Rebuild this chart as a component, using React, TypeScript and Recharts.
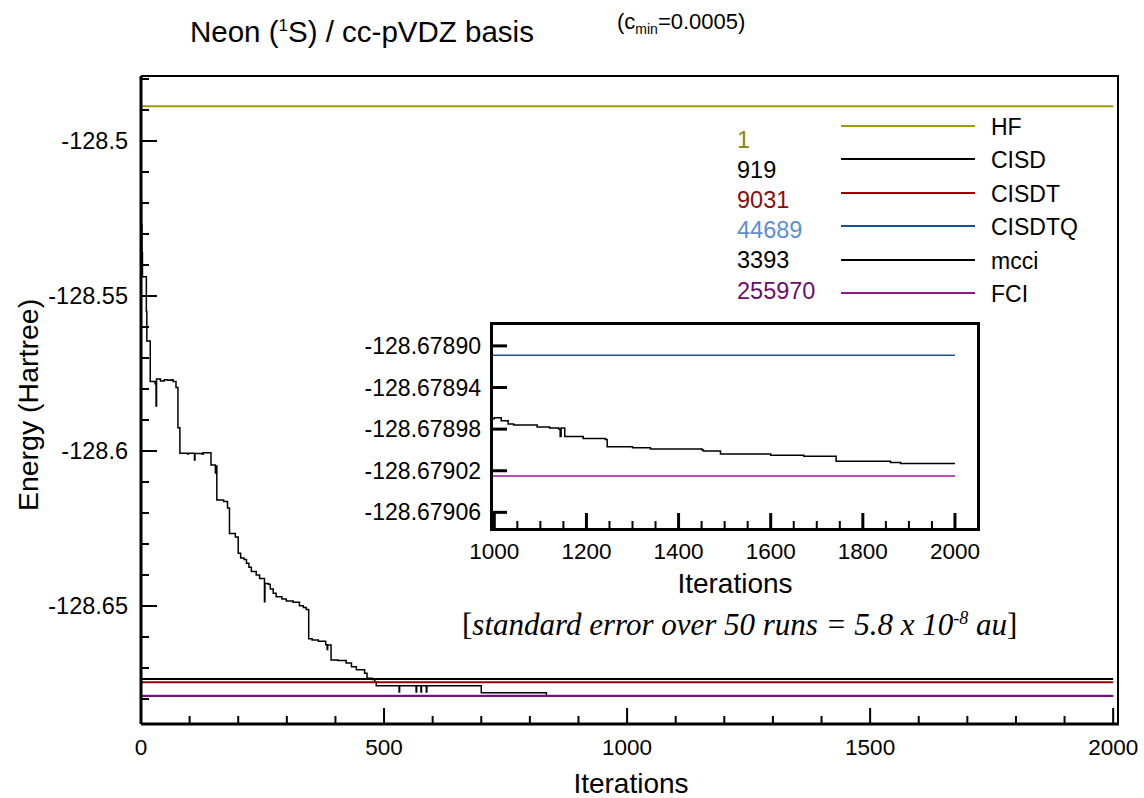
import { LineChart, Line, XAxis, YAxis } from "recharts";

// mcci energy trace (step data), iteration -> energy in Hartree
const mcciIter = [
  0, 1, 2, 3, 11, 12, 19, 29, 31, 32, 40, 48, 55, 62, 66, 72, 76, 80, 96, 98, 110, 111, 125, 128,
  144, 153, 154, 156, 170, 178, 182, 194, 200, 205, 212, 217, 222, 227, 237, 244, 254, 255, 262,
  266, 272, 278, 290, 299, 313, 326, 334, 340, 345, 352, 365, 380, 383, 384, 391, 405, 422, 433,
  443, 460, 465, 476, 481, 484, 530, 531, 532, 566, 567, 576, 577, 587, 588, 700, 834, 900, 1000,
  1015, 1030, 1042, 1093, 1120, 1140, 1143, 1145, 1153, 1193, 1241, 1245, 1300, 1339, 1451, 1454,
  1491, 1600, 1672, 1742, 1860, 1882, 2000,
];
const mcciEnergy = [
  -128.519, -128.527, -128.536, -128.5438, -128.555, -128.5645, -128.5776, -128.5783, -128.5855,
  -128.5768, -128.5774, -128.577, -128.5772, -128.577, -128.5776, -128.5795, -128.5925, -128.6007,
  -128.601, -128.6007, -128.6029, -128.6008, -128.601, -128.6006, -128.6045, -128.6071, -128.6048,
  -128.6158, -128.6163, -128.6184, -128.6266, -128.6277, -128.633, -128.6345, -128.635, -128.6362,
  -128.6375, -128.6389, -128.64, -128.6411, -128.6486, -128.6427, -128.643, -128.6445, -128.6459,
  -128.647, -128.6477, -128.6484, -128.6488, -128.6499, -128.6505, -128.6511, -128.6606, -128.661,
  -128.6614, -128.6625, -128.664, -128.6626, -128.6674, -128.6676, -128.6684, -128.6696, -128.6706,
  -128.6717, -128.6733, -128.6737, -128.6744, -128.6757, -128.6757, -128.6777, -128.6757, -128.6777,
  -128.6757, -128.6777, -128.6757, -128.6777, -128.6757, -128.678, -128.67892, -128.67897,
  -128.678969, -128.678972, -128.678975, -128.678976, -128.678978, -128.678979, -128.67898,
  -128.678987, -128.678979, -128.678987, -128.678989, -128.67899, -128.678997, -128.678998,
  -128.678999, -128.679, -128.679001, -128.679004, -128.679005, -128.679006, -128.679011,
  -128.679012, -128.679013, -128.679013,
];

// reference methods (constant energies)
const refNames = ["HF", "CISD", "CISDT", "CISDTQ", "FCI"];
const refEnergies = [-128.48878, -128.67355, -128.6746, -128.678909, -128.679025];
const refColors = ["#9c9c00", "#000000", "#9a0000", "#1c4f96", "#7d0a85"];

// legend
const legendNames = ["HF", "CISD", "CISDT", "CISDTQ", "mcci", "FCI"];
const legendDims = ["1", "919", "9031", "44689", "3393", "255970"];
const legendLineColors = ["#9c9c00", "#000000", "#9a0000", "#1c4f96", "#000000", "#8a1a8f"];
const legendDimColors = ["#8a8a00", "#000000", "#8b0b0b", "#5b8fd0", "#000000", "#6b0d6b"];

// ticks
const mainXTicks = [0, 100, 200, 300, 400, 500, 600, 700, 800, 900, 1000, 1100, 1200, 1300, 1400, 1500, 1600, 1700, 1800, 1900, 2000];
const mainXLabels = [0, 500, 1000, 1500, 2000];
const mainYTicks = [
  -128.68, -128.67, -128.66, -128.65, -128.64, -128.63, -128.62, -128.61, -128.6, -128.59, -128.58,
  -128.57, -128.56, -128.55, -128.54, -128.53, -128.52, -128.51, -128.5, -128.49, -128.48,
];
const mainYLabels = [-128.65, -128.6, -128.55, -128.5];
const insetXTicks = [1000, 1050, 1100, 1150, 1200, 1250, 1300, 1350, 1400, 1450, 1500, 1550, 1600, 1650, 1700, 1750, 1800, 1850, 1900, 1950, 2000];
const insetXLabels = [1000, 1200, 1400, 1600, 1800, 2000];
const insetYTicks = [-128.6789, -128.67894, -128.67898, -128.67902, -128.67906];

const mcciData = mcciIter.map((it, i) => ({ iter: it, e: mcciEnergy[i] }));
const flatLine = (e: number) => [{ iter: 0, e }, { iter: 2000, e }];

const isIn = (arr: number[], v: number) => arr.some((a) => Math.abs(a - v) < 1e-9);

const MainYTick = (props: any) => {
  const { x, y, payload } = props;
  const major = isIn(mainYLabels, payload.value);
  return (
    <g>
      <line x1={x} x2={x + (major ? 16 : 8)} y1={y} y2={y} stroke="#000" strokeWidth={2} />
      {major && (
        <text x={x - 13} y={y} textAnchor="end" dominantBaseline="central" fontSize={23.5} fill="#000">
          {String(payload.value)}
        </text>
      )}
    </g>
  );
};

const MainXTick = (props: any) => {
  const { x, y, payload } = props;
  const major = isIn(mainXLabels, payload.value);
  return (
    <g>
      <line x1={x} x2={x} y1={y} y2={y - (major ? 16 : 8)} stroke="#000" strokeWidth={2} />
      {major && (
        <text x={x} y={y + 23} textAnchor="middle" dominantBaseline="central" fontSize={22.5} fill="#000">
          {String(payload.value)}
        </text>
      )}
    </g>
  );
};

const InsetYTick = (props: any) => {
  const { x, y, payload } = props;
  return (
    <g>
      <line x1={x} x2={x + 15} y1={y} y2={y} stroke="#000" strokeWidth={3} />
      <text x={x - 11} y={y} textAnchor="end" dominantBaseline="central" fontSize={23} fill="#000">
        {payload.value.toFixed(5)}
      </text>
    </g>
  );
};

const InsetXTick = (props: any) => {
  const { x, y, payload } = props;
  const major = isIn(insetXLabels, payload.value);
  return (
    <g>
      <line x1={x} x2={x} y1={y} y2={y - (major ? 16 : 8)} stroke="#000" strokeWidth={major ? 3 : 2} />
      {major && (
        <text x={x} y={y + 22} textAnchor="middle" dominantBaseline="central" fontSize={22.5} fill="#000">
          {String(payload.value)}
        </text>
      )}
    </g>
  );
};

const abs = (left: number, top: number, extra: any = {}) => ({
  position: "absolute" as const,
  left,
  top,
  whiteSpace: "nowrap" as const,
  ...extra,
});

export default function App() {
  return (
    <div
      style={{
        position: "absolute",
        left: 0,
        top: 0,
        width: 1144,
        height: 798,
        background: "#fff",
        fontFamily: "'Liberation Sans', Arial, sans-serif",
        color: "#000",
      }}
    >
      <LineChart width={1144} height={798} margin={{ top: 76, right: 25, bottom: 14, left: 21 }}>
        <XAxis
          dataKey="iter"
          type="number"
          domain={[0, 2012]}
          allowDataOverflow
          ticks={mainXTicks}
          interval={0}
          tickSize={0}
          tickMargin={0}
          tick={<MainXTick />}
          tickLine={false}
          axisLine={{ stroke: "#000", strokeWidth: 3 }}
          height={60}
        />
        <YAxis
          type="number"
          domain={[-128.68806, -128.47903]}
          allowDataOverflow
          ticks={mainYTicks}
          interval={0}
          tickSize={0}
          tickMargin={0}
          tick={<MainYTick />}
          tickLine={false}
          axisLine={{ stroke: "#000", strokeWidth: 3 }}
          width={120}
        />
        <Line data={mcciData} dataKey="e" type="stepAfter" stroke="#000" strokeWidth={1.5} dot={false} isAnimationActive={false} />
        {refNames.map((n, i) => (
          <Line
            key={n}
            data={flatLine(refEnergies[i])}
            dataKey="e"
            type="linear"
            stroke={refColors[i]}
            strokeWidth={2}
            dot={false}
            isAnimationActive={false}
          />
        ))}
      </LineChart>

      {/* top and right frame */}
      <div style={abs(141, 75, { width: 978, height: 650, borderTop: "2px solid #000", borderRight: "2px solid #000", boxSizing: "border-box" })} />

      {/* inset */}
      <div style={abs(492, 323, { width: 486, height: 206, background: "#fff" })} />
      <div style={abs(350, 310)}>
        <LineChart width={640} height={300} margin={{ top: 13, right: 12, bottom: 21, left: 2 }}>
          <XAxis
            dataKey="iter"
            type="number"
            domain={[995, 2050]}
            allowDataOverflow
            ticks={insetXTicks}
            interval={0}
            tickSize={0}
            tickMargin={0}
            tick={<InsetXTick />}
            tickLine={false}
            axisLine={false}
            height={60}
          />
          <YAxis
            type="number"
            domain={[-128.679076, -128.678878]}
            allowDataOverflow
            ticks={insetYTicks}
            interval={0}
            tickSize={0}
            tickMargin={0}
            tick={<InsetYTick />}
            tickLine={false}
            axisLine={false}
            width={140}
          />
          {refNames.map((n, i) => (
            <Line
              key={n}
              data={flatLine(refEnergies[i])}
              dataKey="e"
              type="linear"
              stroke={n === "FCI" ? "#a010a0" : refColors[i]}
              strokeWidth={1.5}
              dot={false}
              isAnimationActive={false}
            />
          ))}
          <Line data={mcciData} dataKey="e" type="stepAfter" stroke="#000" strokeWidth={1.5} dot={false} isAnimationActive={false} />
        </LineChart>
      </div>
      <div style={abs(490, 321.5, { width: 489.5, height: 209.5, border: "3px solid #000", boxSizing: "border-box" })} />
      <div style={abs(735, 584, { fontSize: 28, lineHeight: "32px", transform: "translate(-50%, -50%)" })}>Iterations</div>

      {/* annotation */}
      <div
        style={abs(462, 625, {
          fontFamily: "'Liberation Serif', 'Times New Roman', serif",
          fontSize: 31,
          lineHeight: "34px",
          transform: "translateY(-50%)",
        })}
      >
        [<i>standard error over 50 runs = 5.8 x 10<sup style={{ fontSize: 18, verticalAlign: "11px", lineHeight: 0 }}>-8</sup> au</i>]
      </div>

      {/* titles */}
      <div style={abs(190, 32, { fontSize: 29.5, lineHeight: "34px", transform: "translateY(-50%)" })}>
        Neon (<sup style={{ fontSize: 17, verticalAlign: "11px", lineHeight: 0 }}>1</sup>S) / cc-pVDZ basis
      </div>
      <div style={abs(617, 22, { fontSize: 22, lineHeight: "26px", transform: "translateY(-50%)" })}>
        (c<sub style={{ fontSize: 14, verticalAlign: "-5px", lineHeight: 0 }}>min</sub>=0.0005)
      </div>

      {/* axis titles */}
      <div style={abs(631, 784, { fontSize: 28, lineHeight: "32px", transform: "translate(-50%, -50%)" })}>Iterations</div>
      <div style={abs(28, 405, { fontSize: 28.5, lineHeight: "32px", transform: "translate(-50%, -50%) rotate(-90deg)" })}>
        Energy (Hartree)
      </div>

      {/* legend */}
      {legendNames.map((n, i) => (
        <div key={n}>
          <div style={abs(841, 126 + i * 33.4 - 1, { width: 134, height: 0, borderTop: `2px solid ${legendLineColors[i]}` })} />
          <div style={abs(991, 127 + i * 33.4, { fontSize: 23, lineHeight: "26px", transform: "translateY(-50%)" })}>{n}</div>
          <div style={abs(737, 140 + i * 30.1, { fontSize: 23.5, lineHeight: "26px", color: legendDimColors[i], transform: "translateY(-50%)" })}>
            {legendDims[i]}
          </div>
        </div>
      ))}
    </div>
  );
}
